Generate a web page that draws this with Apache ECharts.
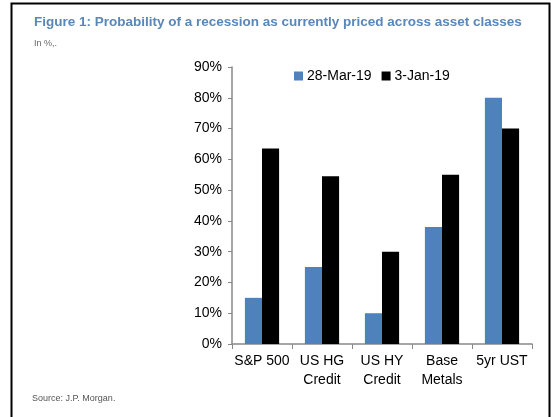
<!DOCTYPE html>
<html>
<head>
<meta charset="utf-8">
<script src="https://cdn.jsdelivr.net/npm/echarts@6/dist/echarts.min.js"></script>
<style>
html,body{margin:0;padding:0;background:#fff;}
#chart{width:551px;height:417px;}
</style>
</head>
<body>
<div id="chart"></div>
<script>
var categories = ['S&P 500', 'US HG\nCredit', 'US HY\nCredit', 'Base\nMetals', '5yr UST'];
var seriesNames = ['28-Mar-19', '3-Jan-19'];
var march = [15, 25, 10, 38, 80];
var january = [63.5, 54.5, 30, 55, 70];

var myChart = echarts.init(document.getElementById('chart'));
var option = {
	animation: false,
	textStyle: { fontFamily: 'Liberation Sans, Arial, sans-serif' },
	graphic: [
		// frame round the figure
		{ type: 'rect', shape: { x: 11.5, y: 3.5, width: 538, height: 430 },
		  style: { fill: null, stroke: '#000', lineWidth: 2 } },
		{ type: 'text', left: 34, top: 15,
		  style: { text: 'Figure 1: Probability of a recession as currently priced across asset classes',
		           fill: '#5a86b8', font: 'bold 13.5px Liberation Sans, Arial' } },
		{ type: 'text', left: 34, top: 39,
		  style: { text: 'In %,.', fill: '#666', font: '9px Liberation Sans, Arial' } },
		{ type: 'text', left: 32, top: 394,
		  style: { text: 'Source: J.P. Morgan.', fill: '#555', font: '9px Liberation Sans, Arial' } }
	],
	legend: {
		data: seriesNames,
		left: 289,
		top: 64,
		itemWidth: 9,
		itemHeight: 9,
		itemGap: 10,
		icon: 'rect',
		textStyle: { fontSize: 14, color: '#000', padding: [0, 0, 0, -1] }
	},
	grid: { left: 232, right: 19, top: 67, bottom: 73 },
	xAxis: {
		type: 'category',
		data: categories,
		axisLine: { lineStyle: { color: '#888', width: 1.5 } },
		axisTick: { show: true, length: 5, lineStyle: { color: '#888' } },
		axisLabel: { color: '#000', fontSize: 14, margin: 8, lineHeight: 19, interval: 0 }
	},
	yAxis: {
		type: 'value',
		min: 0,
		max: 90,
		interval: 10,
		axisLine: { show: true, lineStyle: { color: '#888', width: 1.5 } },
		axisTick: { show: true, length: 4, lineStyle: { color: '#888' } },
		splitLine: { show: false },
		axisLabel: { color: '#000', fontSize: 14, margin: 10, formatter: '{value}%' }
	},
	series: [
		{
			name: seriesNames[0],
			type: 'bar',
			data: march,
			barGap: '0%',
			barCategoryGap: '43%',
			itemStyle: { color: '#4f81bd' }
		},
		{
			name: seriesNames[1],
			type: 'bar',
			data: january,
			itemStyle: { color: '#000' }
		}
	]
};
myChart.setOption(option);
</script>
</body>
</html>
